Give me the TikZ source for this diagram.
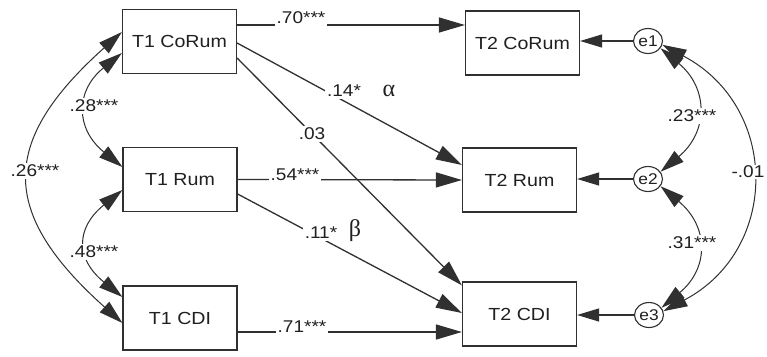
\documentclass[tikz,border=0pt]{standalone}
\usepackage{fontspec}
\setmainfont[FakeStretch=1.12]{Liberation Sans}
\newfontfamily\grk{Liberation Serif}
\usetikzlibrary{arrows.meta,shapes.geometric}
\definecolor{ln}{HTML}{303030}
\definecolor{tx}{HTML}{202020}
\tikzset{
  varbox/.style={draw=ln, line width=1.2pt, minimum width=114pt, minimum height=64pt, inner sep=0pt,
    font=\fontsize{17.5}{20}\selectfont, text=tx},
  errnode/.style={draw=ln, ellipse, line width=1.1pt, minimum width=29pt, minimum height=25pt, inner sep=0pt,
    font=\fontsize{15.5}{17}\selectfont, text=tx},
  regpath/.style={draw=ln, line width=1.3pt, -{Triangle[length=26pt,width=15pt]}},
  epath/.style={draw=ln, line width=1.2pt, -{Triangle[length=22pt,width=13pt]}},
  cov/.style={draw=ln, line width=1pt, {Triangle[length=24pt,width=14pt]}-{Triangle[length=24pt,width=14pt]}},
  lab/.style={fill=white, inner sep=2pt, text=tx, font=\fontsize{17}{19}\selectfont},
  glab/.style={inner sep=0pt, text=tx, font=\grk\fontsize{24}{26}\selectfont}
}
\begin{document}
\begin{tikzpicture}[x=1pt,y=-1pt]
\useasboundingbox[fill=white] (0,0) rectangle (767,356);
% variables
\node[varbox] (t1c) at (179.5,41.5) {T1 CoRum};
\node[varbox] (t1r) at (180,179.5) {T1 Rum};
\node[varbox] (t1d) at (180,318) {T1 CDI};
\node[varbox] (t2c) at (522.5,43) {T2 CoRum};
\node[varbox] (t2r) at (519.5,180) {T2 Rum};
\node[varbox] (t2d) at (519.5,314) {T2 CDI};
\node[errnode] (e1) at (648,41) {e1};
\node[errnode] (e2) at (648,179) {e2};
\node[errnode] (e3) at (649,315) {e3};
% regression paths
\draw[regpath] ([yshift=16.5pt]t1c.east) -- ([yshift=18pt]t2c.west);
\draw[regpath] (t1r.east) -- (t2r.west);
\draw[regpath] ([yshift=-14pt]t1d.east) -- ([yshift=-18pt]t2d.west);
\draw[regpath] ([yshift=-1.5pt]t1c.east) -- ([yshift=15pt]t2r.west);
\draw[regpath] ([yshift=-16.5pt]t1c.east) -- ([yshift=-4pt]t2d.north west);
\draw[regpath] ([yshift=-14.5pt]t1r.east) -- ([yshift=1pt]t2d.west);
% error paths
\draw[epath] (e1.west) -- (e1.west -| t2c.east);
\draw[epath] (e2.west) -- (e2.west -| t2r.east);
\draw[epath] (e3.west) -- (e3.west -| t2d.east);
% covariances left
\draw[cov] ([yshift=9.5pt]t1c.west) .. controls +(-123,110) and +(-123,-110) .. ([yshift=-5pt]t1d.west);
\draw[cov] ([yshift=-11.5pt]t1c.west) .. controls +(-47,38) and +(-47,-38) .. ([yshift=12.5pt]t1r.west);
\draw[cov] ([yshift=-10.5pt]t1r.west) .. controls +(-47,38) and +(-47,-38) .. ([yshift=21pt]t1d.west);
% covariances right
\draw[cov] (e1.-30) .. controls +(48,40) and +(48,-40) .. (e2.30);
\draw[cov] (e2.-30) .. controls +(48,40) and +(48,-40) .. (e3.30);
\draw[cov] (e1.-15) .. controls +(117,62) and +(117,-62) .. (e3.15);
% labels
\node[lab] (l70) at (301,18) {.70***};
\node[lab] (l54) at (295,175) {.54***};
\node[lab] (l71) at (302,327) {.71***};
\node[lab] (l14) at (344,91) {.14*};
\node[glab] (la) at (389,91) {α};
\node[lab] (l03) at (312,134) {.03};
\node[lab] (l11) at (321,233) {.11*};
\node[glab] (lb) at (355,231) {β};
\node[lab] (l28) at (94,106) {.28***};
\node[lab] (l26) at (35,171) {.26***};
\node[lab] (l48) at (94,252) {.48***};
\node[lab] (l23) at (692,116) {.23***};
\node[lab] (l31) at (692,243) {.31***};
\node[lab, inner sep=1pt] (l01) at (748,172) {-.01};
\end{tikzpicture}
\end{document}
